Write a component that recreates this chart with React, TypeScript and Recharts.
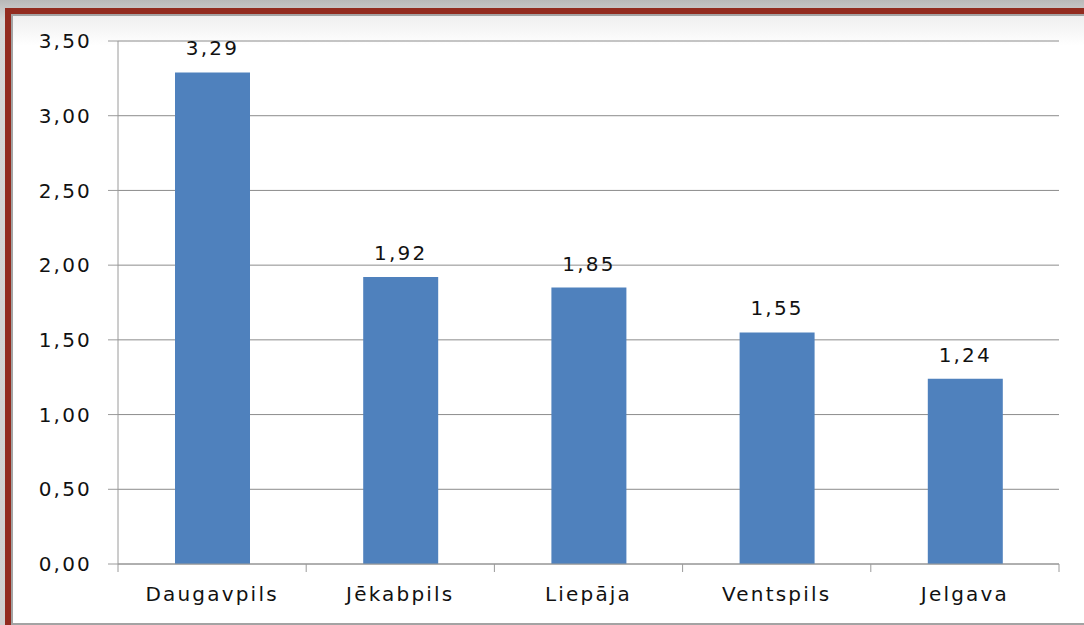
import React from 'react';
import { BarChart, Bar, XAxis, YAxis, CartesianGrid, LabelList } from 'recharts';

const cities = ['Daugavpils', 'Jēkabpils', 'Liepāja', 'Ventspils', 'Jelgava'];
const values = [3.29, 1.92, 1.85, 1.55, 1.24];
const yTicks = [0, 0.5, 1, 1.5, 2, 2.5, 3, 3.5];

const data = cities.map((city, i) => ({ city, value: values[i] }));

const W = 1084;
const H = 625;
const margin = { top: 41, right: 25, bottom: 0, left: 0 };
const yAxisWidth = 118;
const xAxisHeight = 61;
const band = (W - margin.left - margin.right - yAxisWidth) / cities.length;

const fmt = (v: number) => v.toFixed(2).replace('.', ',');
const font = { fontFamily: 'DejaVu Sans, Verdana, sans-serif', fontSize: 20, letterSpacing: 2.2, fill: '#111' };

// ticks sit on the category boundaries, like in Excel
const CityTick = (props: any) => {
  const { x, y, payload, index } = props;
  const top = y - 8;
  return (
    <g>
      {index === 0 && <line x1={x - band / 2} x2={x - band / 2} y1={top} y2={top + 8} stroke="#9a9a9a" />}
      <line x1={x + band / 2} x2={x + band / 2} y1={top} y2={top + 8} stroke="#9a9a9a" />
      <text x={x} y={top + 37} textAnchor="middle" {...font}>{payload.value}</text>
    </g>
  );
};

export default function App() {
  return (
    <div style={{ position: 'fixed', left: 0, top: 0, width: W, height: H, overflow: 'hidden', background: 'linear-gradient(#b9b9b9, #d6d6d6 20px, #d0d0d0)' }}>
      <div style={{ position: 'absolute', left: 5, top: 8, width: 1200, height: 623, border: '6px solid #922b1f', boxSizing: 'border-box' }}>
        <div style={{ position: 'absolute', inset: 0, border: '2px solid #a3a3a3', background: 'linear-gradient(#efefef, #ffffff 30px)' }} />
      </div>
      <div style={{ position: 'absolute', left: 0, top: 0 }}>
        <BarChart width={W} height={H} data={data} margin={margin} barCategoryGap={0}>
          <CartesianGrid vertical={false} stroke="#8c8c8c" />
          <XAxis
            dataKey="city"
            height={xAxisHeight}
            axisLine={{ stroke: '#9a9a9a' }}
            tickLine={false}
            tick={<CityTick />}
            interval={0}
          />
          <YAxis
            width={yAxisWidth}
            domain={[0, 3.5]}
            ticks={yTicks}
            tickFormatter={fmt}
            axisLine={{ stroke: '#9a9a9a' }}
            tickLine={{ stroke: '#9a9a9a' }}
            tickSize={10}
            tickMargin={16}
            tick={{ ...font }}
          />
          <Bar dataKey="value" fill="#4f81bd" barSize={75} isAnimationActive={false}>
            <LabelList dataKey="value" position="top" offset={17} formatter={(v: any) => fmt(Number(v))} style={font} />
          </Bar>
        </BarChart>
      </div>
    </div>
  );
}
